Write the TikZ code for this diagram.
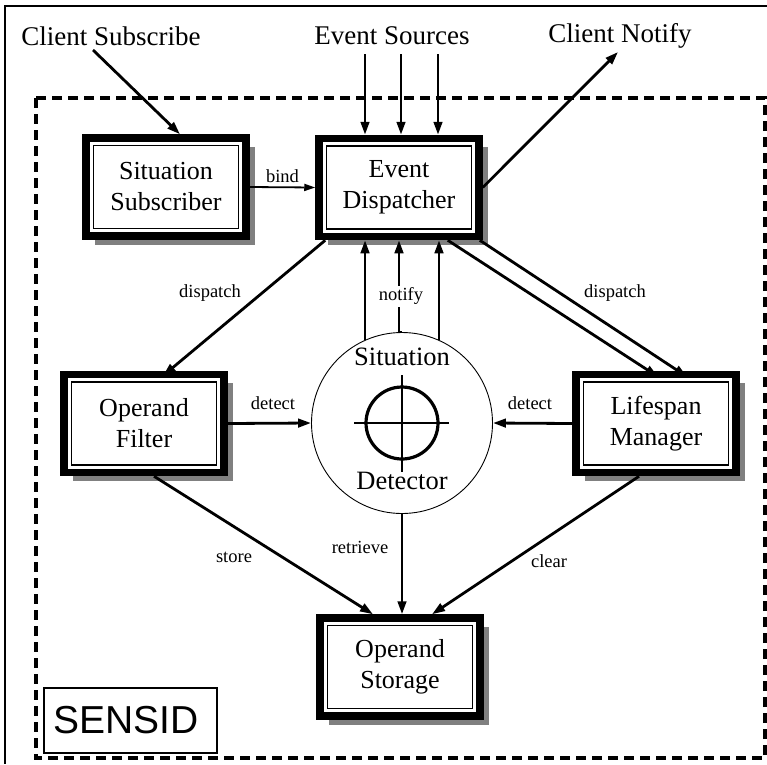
\documentclass[tikz,border=0pt]{standalone}
\usepackage{fontspec}
\setmainfont{Liberation Serif}
\newfontfamily\sensfont{Liberation Sans}
\usetikzlibrary{shadows,arrows.meta,calc}
\begin{document}
\begin{tikzpicture}[x=1pt,y=-1pt,
  comp/.style={draw, line width=7.5pt, fill=white, minimum width=160pt, minimum height=98pt,
    inner sep=0pt, align=center, font=\fontsize{26}{31}\selectfont,
    drop shadow={shadow xshift=8.5pt, shadow yshift=-8.5pt, fill=black!50, opacity=1},
    path picture={\draw[line width=1.5pt]
      ([shift={(7.5pt,-7.5pt)}]path picture bounding box.north west) rectangle
      ([shift={(-7.5pt,7.5pt)}]path picture bounding box.south east);}},
  arr/.style={line width=2.8pt, -{Triangle[length=13pt,width=8.5pt]}},
  thinarr/.style={line width=1.8pt, -{Triangle[length=11pt,width=7pt]}},
  lbl/.style={font=\fontsize{18.5}{20}\selectfont, inner sep=1pt},
  toplbl/.style={font=\fontsize{27}{30}\selectfont, inner sep=1pt}]
\useasboundingbox (0,0) rectangle (767,764);
\fill[white] (0,0) rectangle (767,764);
% outer frame
\draw[line width=1.5pt] (767,6) -- (5,6) -- (5,764);
% dashed system boundary
\draw[line width=3.3pt, dash pattern=on 10pt off 6pt] (36,98) rectangle (765,758);

% components
\node[comp] (sub)  at (166,187)   {Situation\\Subscriber};
\node[comp] (disp) at (399,187.5) {Event\\Dispatcher};
\node[comp] (filt) at (144,423.5) {Operand\\Filter};
\node[comp] (lm)   at (656,423.5) {Lifespan\\Manager};
\node[comp] (stor) at (400,667)   {Operand\\Storage};

% situation detector
\node[draw, circle, line width=0.9pt, minimum size=181pt, inner sep=0pt, fill=white] (det) at (402,423) {};
\draw[line width=3.2pt] (det.center) circle (36pt);
\draw[line width=2.6pt] ($(det.center)+(-48,0)$) -- ($(det.center)+(47,0)$);
\draw[line width=2.6pt] ($(det.center)+(0,-48)$) -- ($(det.center)+(0,49)$);
\node[toplbl, font=\fontsize{26.5}{30}\selectfont] (detA) at (402,357) {Situation};
\node[toplbl, font=\fontsize{26.5}{30}\selectfont] (detB) at (402,481) {Detector};

% SENSID
\node[draw, line width=2pt, text width=155pt, inner xsep=9pt, align=left,
      minimum height=65pt, font=\sensfont\fontsize{39}{40}\selectfont] (sensid) at (130.5,720.5) {SENSID};

% top labels
\node[toplbl] (cs) at (111,36) {Client Subscribe};
\node[toplbl] (es) at (392,36) {Event Sources};
\node[toplbl] (cn) at (620,36) {Client Notify};
\coordinate (csS) at (93,50);
\coordinate (cnE) at (618,52);
\coordinate (es1) at (365,54);
\coordinate (es2) at (401,54);
\coordinate (es3) at (438,54);

% connectors
\draw[arr] (csS) -- ([xshift=14pt]sub.north);
\foreach \c in {es1,es2,es3} \draw[arr] (\c) -- (\c |- disp.north);
\draw[arr] (disp.east) -- (cnE);
\draw[thinarr] (sub.east) -- (disp.west) node[lbl, midway, above=3pt] {bind};

% notify
\draw[arr] (det.114) -- (det.114 |- disp.south);
\draw[arr] (det.66) -- (det.66 |- disp.south);
\draw[arr] (det.90) -- (disp.south |- det.90) -- (disp.south);
\node[lbl, fill=white, inner sep=2pt] (nt) at (401,296) {notify};

% dispatch
\draw[arr] ([xshift=10pt]disp.south west) -- ([xshift=19pt,yshift=-5pt]filt.north);
\node[lbl] (dl) at (210,293) {dispatch};
\draw[arr] ([xshift=-35pt]disp.south east) -- ([xshift=2pt,yshift=-6pt]lm.north);
\draw[arr] ([xshift=-3pt]disp.south east) -- ([xshift=31pt,yshift=-6pt]lm.north);
\node[lbl] (dr) at (615,293) {dispatch};

% detect
\draw[arr] (filt.east) -- (det.west);
\node[lbl] (d1) at (273,403) {detect};
\draw[arr] (lm.west) -- (det.east);
\node[lbl] (d2) at (530,403) {detect};

% storage
\draw[arr] ([xshift=10pt]filt.south) -- ([xshift=-27pt]stor.north);
\node[lbl] (st) at (234,557) {store};
\draw[arr] (det.south) -- (det.south |- stor.north);
\node[lbl] (rt) at (360,547) {retrieve};
\draw[arr] ([xshift=-17pt]lm.south) -- ([xshift=32pt]stor.north);
\node[lbl] (cl) at (549,561) {clear};
\end{tikzpicture}
\end{document}
